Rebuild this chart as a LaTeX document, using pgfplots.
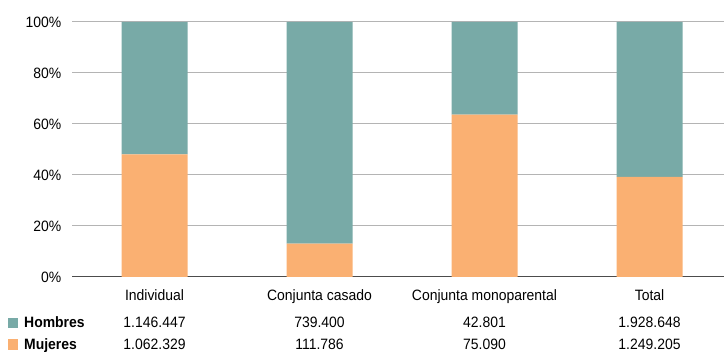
\documentclass[border=0pt]{standalone}
\usepackage{pgfplots}
\pgfplotsset{compat=1.18}
\usepackage{fontspec}
\setmainfont{Liberation Sans}[FakeStretch=0.93]
\definecolor{hom}{HTML}{78AAA7}
\definecolor{muj}{HTML}{FAB072}
\definecolor{gridc}{HTML}{B4B4B4}
\begin{document}
\fontsize{15}{18}\selectfont
\begin{tikzpicture}[x=1pt,y=1pt]
\path[use as bounding box] (0,0) rectangle (724,352);
\begin{axis}[
  at={(72pt,75pt)}, anchor=south west,
  scale only axis, width=652pt, height=255pt,
  xmin=-0.5, xmax=3.4515, ymin=0, ymax=100,
  ybar stacked, bar width=66pt,
  axis x line*=bottom, axis y line*=left,
  x axis line style={draw=black!70, line width=1pt, -},
  y axis line style={draw=none},
  ymajorgrids, grid style={gridc, line width=1pt},
  major tick length=0pt,
  ytick={0,20,40,60,80,100},
  yticklabel={\pgfmathprintnumber{\tick}\%},
  yticklabel style={xshift=-5.5pt, font=\fontsize{15}{18}\selectfont},
  /pgf/number format/assume math mode=true,
  xtick={0,1,2,3},
  xticklabels={Individual, Conjunta casado, Conjunta monoparental, Total},
  xticklabel style={anchor=base, yshift=-24pt, font=\fontsize{15}{18}\selectfont},
  clip=false,
]
\addplot[fill=muj, draw=none] coordinates {(0,48.10) (1,13.13) (2,63.69) (3,39.31)};
\addplot[fill=hom, draw=none] coordinates {(0,51.90) (1,86.87) (2,36.31) (3,60.69)};
\node[anchor=base] at (axis cs:0,0) [yshift=-51pt] {1.146.447};
\node[anchor=base] at (axis cs:1,0) [yshift=-51pt] {739.400};
\node[anchor=base] at (axis cs:2,0) [yshift=-51pt] {42.801};
\node[anchor=base] at (axis cs:3,0) [yshift=-51pt] {1.928.648};
\node[anchor=base] at (axis cs:0,0) [yshift=-73pt] {1.062.329};
\node[anchor=base] at (axis cs:1,0) [yshift=-73pt] {111.786};
\node[anchor=base] at (axis cs:2,0) [yshift=-73pt] {75.090};
\node[anchor=base] at (axis cs:3,0) [yshift=-73pt] {1.249.205};
\end{axis}
\fill[hom] (8,24) rectangle (18,34);
\fill[muj] (8,2) rectangle (18,13);
\node[anchor=base west, inner sep=0pt] at (24,24) {\bfseries Hombres};
\node[anchor=base west, inner sep=0pt] at (24,2) {\bfseries Mujeres};
\end{tikzpicture}
\end{document}
